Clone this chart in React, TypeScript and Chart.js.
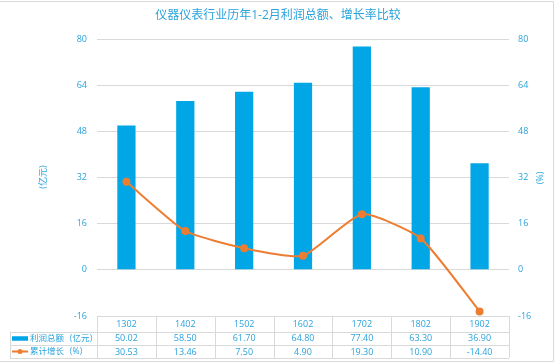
import React, { useEffect, useRef } from "react";
import { Chart, registerables } from "chart.js";

Chart.register(...registerables);

const title = "仪器仪表行业历年1-2月利润总额、增长率比较";
const categories = ["1302", "1402", "1502", "1602", "1702", "1802", "1902"];
const profitLabel = "利润总额（亿元）";
const growthLabel = "累计增长（%）";
const profit = [50.02, 58.5, 61.7, 64.8, 77.4, 63.3, 36.9];
const growth = [30.53, 13.46, 7.5, 4.9, 19.3, 10.9, -14.4];
const leftAxisTitle = "(亿元)";
const rightAxisTitle = "(%)";

const BLUE = "#00a6e6";
const ORANGE = "#ed7d31";
const TEXT = "#2aa3dc";
const GRID = "#d9d9d9";
const FONT = "'Open Sans', 'Noto Sans CJK SC', sans-serif";

const tablePlugin = {
  id: "tablePlugin",
  afterDraw(chart: any) {
    const ctx = chart.ctx as CanvasRenderingContext2D;
    const x = chart.scales.x;
    const area = chart.chartArea;
    const left = area.left;
    const right = area.right;
    const top = area.bottom;
    const r1 = top + 15.5;
    const r2 = r1 + 13.5;
    const bottom = r2 + 13;
    const tableLeft = 10;
    ctx.save();
    ctx.strokeStyle = GRID;
    ctx.lineWidth = 1;
    ctx.beginPath();
    ctx.moveTo(left, Math.round(top) + 0.5);
    ctx.lineTo(right, Math.round(top) + 0.5);
    ctx.moveTo(tableLeft, Math.round(r1) + 0.5);
    ctx.lineTo(right, Math.round(r1) + 0.5);
    ctx.moveTo(tableLeft, Math.round(r2) + 0.5);
    ctx.lineTo(right, Math.round(r2) + 0.5);
    ctx.moveTo(tableLeft, Math.round(bottom) + 0.5);
    ctx.lineTo(right, Math.round(bottom) + 0.5);
    const n = categories.length;
    const w = (right - left) / n;
    for (let i = 0; i <= n; i++) {
      const xx = Math.round(left + i * w) + 0.5;
      ctx.moveTo(xx, top);
      ctx.lineTo(xx, bottom);
    }
    ctx.moveTo(tableLeft + 0.5, r1);
    ctx.lineTo(tableLeft + 0.5, bottom);
    ctx.stroke();

    ctx.fillStyle = TEXT;
    ctx.font = `9px ${FONT}`;
    ctx.textAlign = "center";
    ctx.textBaseline = "middle";
    categories.forEach((c, i) => {
      const cx = x.getPixelForValue(i);
      ctx.fillText(c, cx, (top + r1) / 2 + 0.5);
      ctx.fillText(profit[i].toFixed(2), cx, (r1 + r2) / 2 + 0.5);
      ctx.fillText(growth[i].toFixed(2), cx, (r2 + bottom) / 2 + 0.5);
    });

    const y1 = (r1 + r2) / 2;
    const y2 = (r2 + bottom) / 2;
    ctx.fillStyle = BLUE;
    ctx.fillRect(12, y1 - 2, 16, 4.5);
    ctx.strokeStyle = ORANGE;
    ctx.lineWidth = 2;
    ctx.beginPath();
    ctx.moveTo(12, y2);
    ctx.lineTo(28, y2);
    ctx.stroke();
    ctx.fillStyle = ORANGE;
    ctx.beginPath();
    ctx.arc(20, y2, 2.5, 0, Math.PI * 2);
    ctx.fill();
    ctx.fillStyle = TEXT;
    ctx.textAlign = "left";
    ctx.font = `8.5px ${FONT}`;
    ctx.fillText(profitLabel, 30, y1 + 0.5);
    ctx.fillText(growthLabel, 30, y2 + 0.5);

    ctx.font = `12px ${FONT}`;
    ctx.textAlign = "center";
    ctx.fillText(title, 278, 16);

    ctx.font = `9px ${FONT}`;
    ctx.save();
    ctx.translate(43, 177);
    ctx.rotate(-Math.PI / 2);
    ctx.fillText(leftAxisTitle, 0, 0);
    ctx.restore();
    ctx.save();
    ctx.translate(540, 178);
    ctx.rotate(-Math.PI / 2);
    ctx.fillText(rightAxisTitle, 0, 0);
    ctx.restore();

    ctx.strokeStyle = GRID;
    ctx.lineWidth = 1;
    ctx.beginPath();
    ctx.moveTo(0, 1.5);
    ctx.lineTo(553.5, 1.5);
    ctx.lineTo(553.5, 361.5);
    ctx.lineTo(0, 361.5);
    ctx.stroke();
    ctx.restore();
  },
};

export default function App() {
  const ref = useRef<HTMLCanvasElement | null>(null);
  useEffect(() => {
    if (!ref.current) return;
    const chart = new Chart(ref.current, {
      type: "bar",
      data: {
        labels: categories,
        datasets: [
          {
            type: "line",
            label: growthLabel,
            data: growth,
            yAxisID: "y1",
            borderColor: ORANGE,
            backgroundColor: ORANGE,
            borderWidth: 2,
            pointRadius: 3,
            pointBackgroundColor: ORANGE,
            pointBorderColor: ORANGE,
            tension: 0.18,
            order: 0,
          } as any,
          {
            type: "bar",
            label: profitLabel,
            data: profit,
            yAxisID: "y",
            backgroundColor: BLUE,
            categoryPercentage: 1,
            barPercentage: 0.31,
            order: 1,
          },
        ],
      },
      options: {
        responsive: false,
        animation: false,
        layout: { padding: { top: 39, bottom: 48, left: 0, right: 0 } },
        plugins: {
          legend: { display: false },
          title: { display: false },
          tooltip: { enabled: false },
        },
        scales: {
          x: { display: false, offset: true, grid: { display: false } },
          y: {
            position: "left",
            min: -16,
            max: 80,
            ticks: { stepSize: 16, color: TEXT, padding: 10, font: { size: 9, family: FONT } },
            grid: { color: GRID, drawTicks: false },
            border: { display: false },
            afterFit: (s: any) => { s.width = 97; },
          },
          y1: {
            position: "right",
            min: -16,
            max: 80,
            ticks: { stepSize: 16, color: TEXT, padding: 9, font: { size: 9, family: FONT } },
            grid: { display: false, drawTicks: false },
            border: { display: false },
            afterFit: (s: any) => { s.width = 47; },
          },
        },
      },
      plugins: [tablePlugin],
    });
    return () => chart.destroy();
  }, []);
  return (
    <div style={{ position: "absolute", left: 0, top: 0, width: 556, height: 364, background: "#fff" }}>
      <canvas ref={ref} width={556} height={364} style={{ width: 556, height: 364 }} />
    </div>
  );
}
